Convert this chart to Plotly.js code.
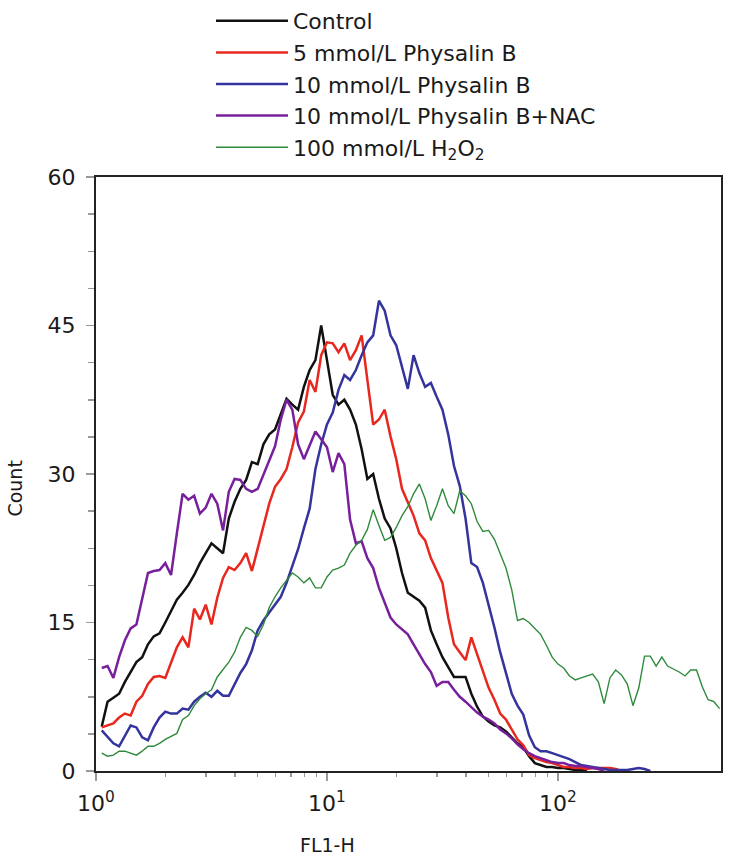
<!DOCTYPE html>
<html>
<head>
<meta charset="utf-8">
<script src="https://cdn.plot.ly/plotly-3.0.1.min.js"></script>
<style>html,body{margin:0;padding:0;background:#fff}#chart{width:729px;height:862px}</style>
</head>
<body>
<div id="chart"></div>
<script>
// FL1-H channel values (log-spaced, 10^0.025 steps)
const fl1h = [
1.059,1.122,1.189,1.259,1.334,1.413,1.496,1.585,1.679,1.778,1.884,1.995,2.113,2.239,2.371,2.512,2.661,2.818,2.985,3.162,
3.350,3.548,3.758,3.981,4.217,4.467,4.732,5.012,5.309,5.623,5.957,6.310,6.683,7.079,7.499,7.943,8.414,8.913,9.441,10.0,
10.59,11.22,11.89,12.59,13.34,14.13,14.96,15.85,16.79,17.78,18.84,19.95,21.13,22.39,23.71,25.12,26.61,28.18,29.85,31.62,
33.50,35.48,37.58,39.81,42.17,44.67,47.32,50.12,53.09,56.23,59.57,63.10,66.83,70.79,74.99,79.43,84.14,89.13,94.41,100.0,
105.9,112.2,118.9,125.9,133.4,141.3,149.6,158.5,167.9,177.8,188.4,199.5,211.3,223.9,237.1,251.2,266.1,281.8,298.5,316.2,
335.0,354.8,375.8,398.1,421.7,446.7,473.2,501.2
];

const control = [
4.5,7.0,7.4,7.8,9.0,10.0,11.0,11.5,12.8,13.6,13.9,15.0,16.2,17.3,18.0,18.8,19.8,21.0,22.0,23.0,
22.5,22.0,25.5,27.2,28.5,29.4,31.2,31.0,33.0,34.0,34.5,36.0,37.6,37.0,36.5,38.8,40.5,41.5,45.0,41.5,
38.0,37.0,37.5,36.5,35.0,32.5,29.5,30.0,27.5,25.5,24.5,22.5,20.0,18.0,17.6,17.2,16.5,14.2,12.8,11.5,
10.5,9.5,9.5,9.5,7.8,6.5,5.5,5.0,4.6,4.4,4.0,3.4,2.8,2.4,1.5,0.8,0.6,0.4,0.4,0.3,
0.3,0.2,0.1,0.1,0
];

const pb5 = [
4.4,4.6,4.8,5.4,5.8,5.6,7.0,7.6,8.8,9.5,9.6,9.4,11.0,12.5,13.5,12.5,16.4,15.3,16.8,14.8,
17.5,19.5,20.6,20.3,21.0,22.0,20.2,22.5,25.0,27.0,28.7,29.5,30.5,32.7,35.2,36.3,39.5,38.3,42.0,43.3,
43.2,42.3,43.2,41.5,42.5,44.0,39.5,35.0,35.5,36.5,33.8,31.5,28.5,27.2,25.8,24.0,23.3,21.5,20.2,19.0,
15.5,12.8,12.0,11.2,13.5,11.8,10.2,8.4,7.2,5.8,5.2,4.2,3.2,2.6,1.6,1.3,1.1,0.9,0.8,0.6,
0.4,0.4,0.3,0.3,0.2,0.3,0.3,0.3,0.3,0.2,0
];

const pb10 = [
4.1,3.5,2.8,2.5,3.6,4.6,4.4,3.4,3.1,4.4,5.4,6.0,5.8,5.8,6.3,6.2,7.0,7.5,7.9,7.5,
8.1,7.6,7.6,8.8,9.9,10.8,12.2,14.2,15.2,16.0,16.8,17.6,19.0,20.6,22.4,24.5,26.5,30.5,33.0,35.0,
36.2,38.5,40.0,39.5,40.5,42.0,43.3,44.0,47.5,46.5,44.0,43.0,40.8,38.6,42.0,40.2,38.8,39.2,37.8,36.5,
34.0,30.8,28.8,25.5,21.0,20.6,19.0,16.8,14.5,12.0,10.0,7.8,6.6,5.7,3.6,2.4,2.0,2.0,1.8,1.6,
1.4,1.2,0.9,0.6,0.5,0.4,0.3,0.2,0.1,0.1,0.1,0.1,0.2,0.3,0.2,0
];

const pb10nac = [
10.4,10.6,9.4,11.5,13.2,14.4,14.8,17.3,20.0,20.2,20.3,21.0,19.8,24.0,28.0,27.4,27.8,26.0,26.6,28.0,
27.0,24.3,28.2,29.5,29.4,28.5,28.2,28.5,30.0,31.3,32.8,35.5,37.5,36.5,33.0,31.5,33.0,34.3,33.5,32.7,
30.2,32.1,31.0,25.4,23.0,23.2,21.5,20.5,18.5,17.0,15.5,14.8,14.3,13.8,12.8,11.8,10.8,10.0,8.6,9.0,
9.0,8.2,7.5,7.0,6.5,5.9,5.5,5.2,4.8,4.2,3.8,3.3,2.7,2.2,1.8,1.5,1.3,1.1,0.9,0.8,
0.8,0.6,0.5,0.5,0.4,0.3,0.2,0
];

const h2o2 = [
1.8,1.5,1.6,2.0,2.0,1.8,1.6,2.0,2.5,2.5,2.8,3.2,3.5,3.8,5.2,5.6,6.6,7.3,7.8,8.2,
9.5,10.3,11.0,12.0,13.5,14.5,14.2,13.6,14.8,16.5,17.6,18.5,19.3,20.0,19.6,19.0,19.5,18.5,18.5,19.6,
20.3,20.5,20.8,22.0,22.8,23.3,24.4,26.4,24.8,23.3,23.6,24.6,25.8,26.7,28.0,29.0,27.5,25.3,26.8,28.5,
26.8,26.0,28.3,27.8,27.0,25.2,24.2,24.3,23.4,22.0,20.5,18.3,15.2,15.4,15.0,14.4,13.8,12.7,11.5,10.8,
10.4,9.6,9.2,9.4,9.6,9.8,9.0,6.8,9.4,10.2,9.7,8.8,6.6,8.4,11.6,11.6,10.6,11.5,10.6,10.3,
10.0,9.6,10.2,10.2,8.5,7.2,7.0,6.3
];

const seriesNames = ['Control','5 mmol/L Physalin B','10 mmol/L Physalin B','10 mmol/L Physalin B+NAC','100 mmol/L H<sub>2</sub>O<sub>2</sub>'];
const seriesData = [control, pb5, pb10, pb10nac, h2o2];
const seriesColors = ['#111111','#e8281e','#34349c','#78209c','#2f8a3c'];
const seriesWidths = [2.5, 2.5, 2.5, 2.5, 1.4];

const xMajorTicks = [1, 10, 100];
const xMinorTicks = [2,3,4,5,6,7,8,9,20,30,40,50,60,70,80,90];
const yTicks = [0, 15, 30, 45, 60];

const traces = seriesData.map((ys, i) => ({
  type: 'scatter', mode: 'lines',
  x: fl1h.slice(0, ys.length), y: ys,
  name: seriesNames[i],
  line: {color: seriesColors[i], width: seriesWidths[i]},
  hoverinfo: 'skip'
}));

const fontFam = 'DejaVu Sans, Liberation Sans, Arial, sans-serif';
const layout = {
  width: 729, height: 862,
  margin: {l: 96, r: 8, t: 177, b: 91, autoexpand: false},
  paper_bgcolor: '#fff', plot_bgcolor: '#fff',
  font: {family: fontFam, color: '#1a1a1a', size: 21},
  showlegend: true,
  legend: {
    xref: 'container', yref: 'container',
    x: 0.2894, xanchor: 'left', y: 1.021, yanchor: 'top',
    font: {family: fontFam, size: 22, color: '#1a1a1a'},
    bgcolor: 'rgba(0,0,0,0)', borderwidth: 0,
    tracegroupgap: 0, itemwidth: 72
  },
  xaxis: {
    type: 'log', range: [0, 2.706],
    tickmode: 'array', tickvals: xMajorTicks, ticktext: ['10<sup>0</sup>','10<sup>1</sup>','10<sup>2</sup>'],
    ticks: 'outside', ticklen: 8, tickwidth: 1.5, tickcolor: '#999',
    minor: {tickmode: 'array', tickvals: xMinorTicks, ticks: 'outside', ticklen: 4, tickwidth: 1.5, tickcolor: '#999', showgrid: false},
    showline: true, mirror: true, linecolor: '#222', linewidth: 2,
    showgrid: false, zeroline: false,
    tickfont: {family: fontFam, size: 22, color: '#1a1a1a'},
    ticklabelstandoff: 4
  },
  yaxis: {
    range: [0, 60], tickmode: 'array', tickvals: yTicks,
    ticks: 'outside', ticklen: 8, tickwidth: 1.5, tickcolor: '#999',
    minor: {dtick: 3.75, ticks: 'outside', ticklen: 6, tickwidth: 1.5, tickcolor: '#999', showgrid: false},
    showline: true, mirror: true, linecolor: '#222', linewidth: 2,
    showgrid: false, zeroline: false,
    tickfont: {family: fontFam, size: 22, color: '#1a1a1a'},
    ticklabelstandoff: 6
  },
  annotations: [
    {text: 'FL1-H', xref: 'paper', yref: 'paper', x: 0.37, y: -0.125, xanchor: 'center', yanchor: 'middle',
     showarrow: false, font: {family: fontFam, size: 19, color: '#1a1a1a'}},
    {text: 'Count', xref: 'paper', yref: 'paper', x: -0.13, y: 0.475, xanchor: 'center', yanchor: 'middle',
     textangle: -90, showarrow: false, font: {family: fontFam, size: 19, color: '#1a1a1a'}}
  ]
};

Plotly.newPlot('chart', traces, layout, {displayModeBar: false, staticPlot: true});
</script>
</body>
</html>
